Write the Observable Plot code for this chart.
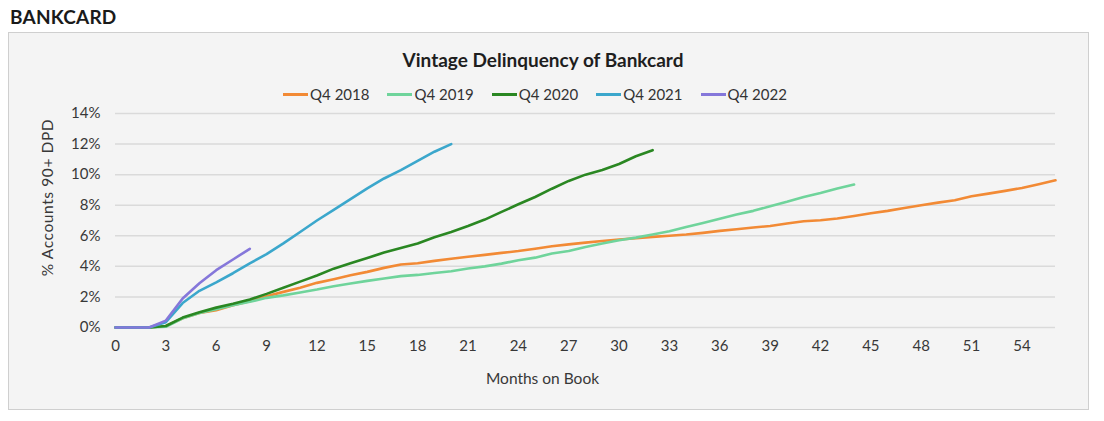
<!DOCTYPE html>
<html>
<head>
<meta charset="utf-8">
<script src="https://cdn.jsdelivr.net/npm/d3@7"></script>
<script src="https://cdn.jsdelivr.net/npm/@observablehq/plot@0.6"></script>
<style>
  html, body { margin: 0; padding: 0; background: #ffffff; }
  body { width: 1104px; height: 421px; position: relative; overflow: hidden; font-family: Lato, "Open Sans", sans-serif; }
  #section { position: absolute; left: 10px; top: 5px; font-size: 19px; font-weight: 700; color: #1a1a1a; letter-spacing: 0.2px; }
  #panel { position: absolute; left: 8px; top: 32px; width: 1079px; height: 376px; background: #f4f4f4; border: 1px solid #cfcfcf; }
  #title { position: absolute; left: 0; width: 1086px; top: 48px; text-align: center; font-size: 19px; font-weight: 700; color: #1e1e1e; }
  #legend { position: absolute; left: 0; width: 1070px; top: 85px; display: flex; justify-content: center; gap: 18px; font-size: 15px; color: #333; }
  .item { display: flex; align-items: center; }
  .sw { display: inline-block; width: 25px; height: 3px; margin-right: 2px; }
  #chart { position: absolute; left: 0; top: 100px; }
  .ylab text { letter-spacing: 0.6px; }
</style>
</head>
<body>
<div id="section">BANKCARD</div>
<div id="panel"></div>
<div id="title">Vintage Delinquency of Bankcard</div>
<div id="legend"></div>
<div id="chart"></div>
<script>
// ---- data (percent of accounts 90+ DPD by months on book) ----
const vintages = ["Q4 2018", "Q4 2019", "Q4 2020", "Q4 2021", "Q4 2022"];
const colors = ["#f28a35", "#6fd49b", "#2a8722", "#3ba7cc", "#8577da"];

const q42018 = [0, 0, 0, 0.1, 0.6, 0.95, 1.13, 1.45, 1.72, 2.05,
  2.33, 2.6, 2.92, 3.16, 3.42, 3.64, 3.9, 4.12, 4.2, 4.36,
  4.5, 4.63, 4.75, 4.88, 5.0, 5.15, 5.32, 5.44, 5.55, 5.66,
  5.76, 5.84, 5.93, 6.0, 6.08, 6.19, 6.32, 6.43, 6.54, 6.64,
  6.8, 6.95, 7.02, 7.13, 7.3, 7.47, 7.63, 7.82, 8.0, 8.17,
  8.33, 8.59, 8.76, 8.94, 9.13, 9.37, 9.63];
const q42019 = [0, 0, 0, 0.05, 0.6, 0.95, 1.2, 1.45, 1.68, 1.94,
  2.1, 2.29, 2.48, 2.7, 2.88, 3.05, 3.2, 3.36, 3.44, 3.57,
  3.68, 3.86, 4.0, 4.18, 4.4, 4.57, 4.84, 5.0, 5.27, 5.49,
  5.71, 5.88, 6.08, 6.3, 6.58, 6.84, 7.12, 7.39, 7.63, 7.93,
  8.22, 8.54, 8.8, 9.09, 9.35];
const q42020 = [0, 0, 0, 0.1, 0.65, 1.0, 1.3, 1.55, 1.83, 2.2,
  2.6, 3.0, 3.4, 3.85, 4.2, 4.55, 4.9, 5.2, 5.5, 5.9,
  6.25, 6.64, 7.06, 7.56, 8.06, 8.54, 9.08, 9.59, 10.0, 10.3,
  10.7, 11.2, 11.6];
const q42021 = [0, 0, 0, 0.35, 1.6, 2.4, 2.95, 3.55, 4.2, 4.8,
  5.5, 6.25, 7.0, 7.7, 8.4, 9.1, 9.75, 10.3, 10.9, 11.5,
  12.0];
const q42022 = [0, 0, 0, 0.45, 1.9, 2.9, 3.75, 4.45, 5.15];

const xTicks = [0, 3, 6, 9, 12, 15, 18, 21, 24, 27, 30, 33, 36, 39, 42, 45, 48, 51, 54];
const yTicks = [0, 2, 4, 6, 8, 10, 12, 14];
const xLabel = "Months on Book";
const yLabel = "% Accounts 90+ DPD";

// ---- build table ----
const seriesValues = [q42018, q42019, q42020, q42021, q42022];
const rows = seriesValues.flatMap((vals, k) =>
  vals.map((v, i) => ({month: i, pct: v, vintage: vintages[k]})));

// ---- legend ----
const legend = document.getElementById("legend");
vintages.forEach((name, k) => {
  const it = document.createElement("div");
  it.className = "item";
  const sw = document.createElement("span");
  sw.className = "sw";
  sw.style.background = colors[k];
  const tx = document.createElement("span");
  tx.textContent = name;
  it.appendChild(sw);
  it.appendChild(tx);
  legend.appendChild(it);
});

// ---- chart ----
const chart = Plot.plot({
  width: 1104,
  height: 300,
  marginLeft: 115,
  marginRight: 49,
  marginTop: 13,
  marginBottom: 73,
  style: {background: "transparent", fontFamily: "Lato, 'Open Sans', sans-serif", fontSize: "15px", color: "#383838"},
  x: {domain: [0, 56], ticks: xTicks, tickSize: 0, tickPadding: 13, label: null},
  y: {domain: [0, 14], ticks: yTicks, tickFormat: d => d + "%", tickSize: 0, tickPadding: 15, label: null},
  color: {domain: vintages, range: colors},
  marks: [
    Plot.gridY(yTicks, {stroke: "#dadada", strokeOpacity: 1, strokeWidth: 1.5}),
    Plot.lineY(rows, {x: "month", y: "pct", stroke: "vintage", strokeWidth: 2.6, strokeLinejoin: "round", strokeLinecap: "round"}),
    Plot.text([xLabel], {text: d => d, frameAnchor: "bottom", textAnchor: "middle", lineAnchor: "middle", dx: -43, dy: 52, fill: "#383838", fontSize: 15.5}),
    Plot.text([yLabel], {text: d => d, frameAnchor: "left", textAnchor: "middle", lineAnchor: "middle", rotate: -90, dx: -67, dy: -23, fill: "#383838", fontSize: 15.5, className: "ylab"})
  ]
});
document.getElementById("chart").appendChild(chart);
</script>
</body>
</html>
